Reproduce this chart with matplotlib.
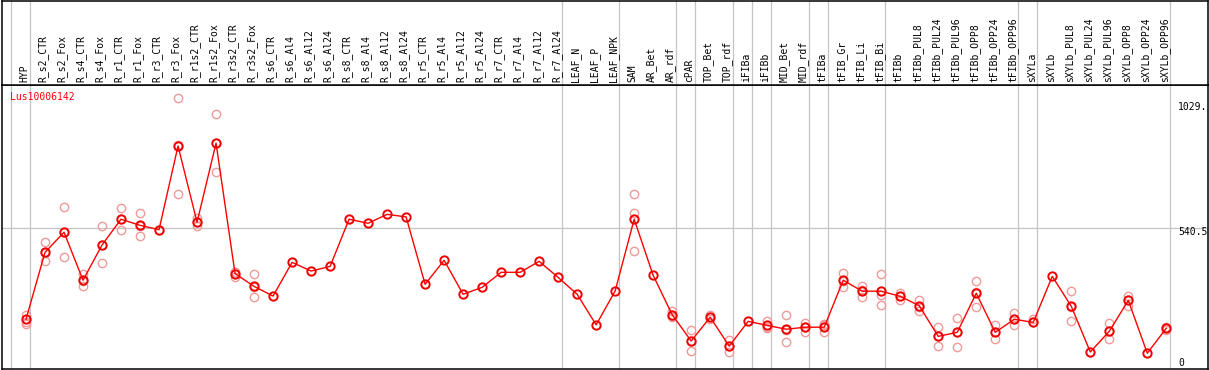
import matplotlib
matplotlib.use("Agg")
import matplotlib.pyplot as plt
from matplotlib.transforms import offset_copy

# ---- data ----
labels = ["HYP", "R_s2_CTR", "R_s2_Fox", "R_s4_CTR", "R_s4_Fox", "R_r1_CTR", "R_r1_Fox",
          "R_r3_CTR", "R_r3_Fox", "R_r1s2_CTR", "R_r1s2_Fox", "R_r3s2_CTR", "R_r3s2_Fox",
          "R_s6_CTR", "R_s6_Al4", "R_s6_Al12", "R_s6_Al24", "R_s8_CTR", "R_s8_Al4",
          "R_s8_Al12", "R_s8_Al24", "R_r5_CTR", "R_r5_Al4", "R_r5_Al12", "R_r5_Al24",
          "R_r7_CTR", "R_r7_Al4", "R_r7_Al12", "R_r7_Al24", "LEAF_N", "LEAF_P", "LEAF_NPK",
          "SAM", "AR_Bet", "AR_rdf", "cPAR", "TOP_Bet", "TOP_rdf", "iFIBa", "iFIBb",
          "MID_Bet", "MID_rdf", "tFIBa", "tFIB_Gr", "tFIB_Li", "tFIB_Bi", "tFIBb",
          "tFIBb_PUL8", "tFIBb_PUL24", "tFIBb_PUL96", "tFIBb_OPP8", "tFIBb_OPP24",
          "tFIBb_OPP96", "sXYLa", "sXYLb", "sXYLb_PUL8", "sXYLb_PUL24", "sXYLb_PUL96",
          "sXYLb_OPP8", "sXYLb_OPP24", "sXYLb_OPP96"]

means = [183, 445, 524, 336, 474, 575, 551, 534, 862, 563, 873, 362, 312,
         274, 406, 372, 390, 575, 559, 594, 584, 320, 414, 281, 308,
         367, 367, 410, 347, 281, 161, 294,
         575, 355, 201, 98, 191, 78, 175, 159, 144, 152, 152,
         336, 293, 293, 273, 236, 116, 132, 285, 132, 183,
         171, 351, 234, 55, 136, 257, 50, 148]

replicates = [[200, 171, 163], [484, 410, 441], [622, 426, 524], [362, 315, 331],
              [547, 402, 473], [618, 532, 575], [598, 508, 547], [534],
              [1049, 673, 864], [578, 548, 563], [987, 759, 873], [367, 350, 369],
              [359, 269, 308],
              [], [], [], [], [], [], [], [], [], [], [], [], [], [], [], [], [], [], [],
              [673, 598, 449], [], [215, 192, 196], [141, 57, 96], [200, 186],
              [102, 53, 79], [], [175, 149, 153], [199, 93, 140], [170, 134, 152],
              [163, 132, 161], [364, 311, 333], [313, 269, 297], [359, 279, 239],
              [285, 259, 275], [259, 217, 232], [152, 80, 116], [189, 73, 134],
              [333, 232, 290], [159, 105, 132], [206, 159, 184], [185, 171], [],
              [293, 176, 233], [], [167, 105, 136], [275, 236, 260], [], [153, 140]]

group_ends = [-1, 0, 28, 31, 34, 35, 37, 38, 39, 41, 42, 45, 52, 53, 60]
ytick_vals = [0, 540.5, 1029]
ytick_text = ["0", "540.5", "1029."]
gene = "Lus10006142"

# ---- layout (pixel geometry of reference) ----
W, H = 1209, 370
x0px, dxpx = 26.0, 19.005
left_px, right_px = 2, 1208
top_px, sep_px, bot_px = 0.5, 85, 369
y0px, scale = 366.0, 0.2553

fig = plt.figure(figsize=(W / 100, H / 100), dpi=100)
ax = fig.add_axes([left_px / W, (H - bot_px) / H, (right_px - left_px) / W, (bot_px - sep_px) / H])
axh = fig.add_axes([left_px / W, (H - sep_px) / H, (right_px - left_px) / W, (sep_px - top_px) / H],
                   sharex=ax)

xlim = ((left_px - x0px) / dxpx, (right_px - x0px) / dxpx)
ax.set_xlim(*xlim)
ax.set_ylim((y0px - bot_px) / scale, (y0px - sep_px) / scale)
axh.set_ylim(0, 1)

for a in (ax, axh):
    a.set_xticks([])
    a.set_yticks([])
    for s in a.spines.values():
        s.set_linewidth(1.1)
        s.set_color("black")

grey = "#c4c4c4"
for g in group_ends:
    for a in (ax, axh):
        a.axvline(g + 0.21, color=grey, lw=0.9, zorder=1)
ax.axhline(540.5, color=grey, lw=0.9, zorder=1)

xs = list(range(len(labels)))
mono = "DejaVu Sans Mono"

# header labels
for i, lab in enumerate(labels):
    axh.text(i - 0.09, 0.03, lab, rotation=90, ha="center", va="bottom",
             fontsize=7, family=mono, color="black",
             transform=axh.get_xaxis_transform())

# replicates
rx, ry = [], []
for i, r in enumerate(replicates):
    for v in r:
        rx.append(i)
        ry.append(v)
ax.plot(rx, ry, linestyle="none", marker="o", ms=6, mfc="none", mec="#f09a9a",
        mew=1.0, zorder=2)

# mean line + markers
ax.plot(xs, means, color="#ff0000", lw=1.0, zorder=3)
ax.plot(xs, means, linestyle="none", marker="o", ms=6, mfc="none", mec="#ee0000",
        mew=1.4, zorder=4)

# gene label
ax.text((10 - left_px) / (right_px - left_px), (bot_px - 97) / (bot_px - sep_px), gene,
        color="#ff0000", fontsize=7, family=mono, ha="left", va="center",
        transform=ax.transAxes)

# y tick labels on the right
tx = (1178 - left_px) / (right_px - left_px)
base = ax.get_yaxis_transform()
for v, t in zip(ytick_vals, ytick_text):
    dy = 3 if v == 0 else -4
    tr = offset_copy(base, fig=fig, x=0, y=dy * 0.72, units="points")
    ax.text(tx, v, t, fontsize=7, family=mono, ha="left", va="center",
            color="black", transform=tr)

fig.savefig("out.png", dpi=100)
